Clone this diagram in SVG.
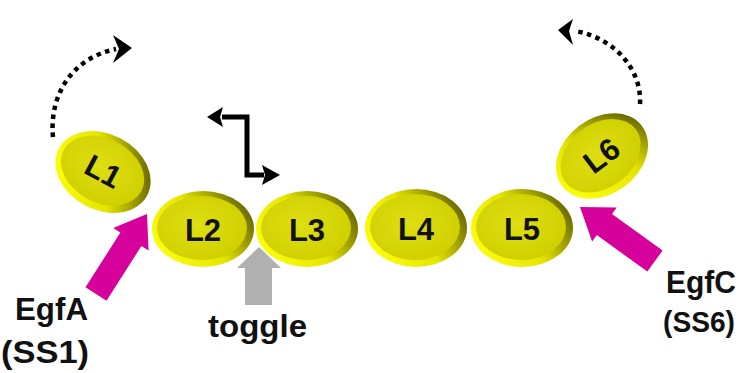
<svg xmlns="http://www.w3.org/2000/svg" width="743" height="373" viewBox="0 0 743 373">
<defs>
<linearGradient id="rim" x1="0" y1="0.75" x2="1" y2="0.25">
<stop offset="0" stop-color="#ffff10"/>
<stop offset="0.5" stop-color="#e4e400"/>
<stop offset="1" stop-color="#5e5e00"/>
</linearGradient>
<radialGradient id="face" cx="0.45" cy="0.45" r="0.6">
<stop offset="0" stop-color="#dede12"/>
<stop offset="1" stop-color="#cfcf00"/>
</radialGradient>
<style>
.rim{fill:url(#rim)}
.face{fill:url(#face)}
.lbl{font-family:"Liberation Sans",Arial,sans-serif;font-weight:bold;fill:#111;}
.node{font-size:31px;text-anchor:middle}
.dots{fill:none;stroke:#000;stroke-width:4.5;stroke-dasharray:4.5 4.5}
.blk{fill:#000}
.mag{fill:#d6009a}
.gry{fill:#b0b0b0}
</style>
</defs>
<g id="connectors">
<path class="dots" d="M53,137 C49,95 72,58 116,49"/>
<polygon class="blk" points="113,35 132,48 113,63 119,49"/>
<path class="dots" d="M640,104 C642,70 615,38 575,31"/>
<polygon class="blk" points="573,19 558,30 573,45 569,31"/>
<path d="M222,117 H247 V175 H264" fill="none" stroke="#000" stroke-width="5"/>
<polygon class="blk" points="207,117 223,107 220,117 223,127"/>
<polygon class="blk" points="280,175 262,165 265,175 262,185"/>
<polygon class="mag" points="85.5,287.3 120.4,232.6 113.2,228 147,214 148.6,250.6 141.4,246 106.5,300.7"/>
<polygon class="mag" points="662.6,250.4 612,213.9 616.7,207.4 580,207 592.1,241.5 596.8,235.1 647.4,271.6"/>
<polygon class="gry" points="245,305 245,268 237,268 259,247 281,268 272,268 272,305"/>
</g>
<g id="L1" transform="translate(103,172) rotate(28)">
<ellipse class="rim" rx="50" ry="38"/>
<ellipse class="face" cx="-1" cy="-1" rx="44" ry="32"/>
<text class="lbl node" y="10" font-size="29">L1</text>
</g>
<g id="L2" transform="translate(203,229)">
<ellipse class="rim" rx="51" ry="38"/>
<ellipse class="face" cx="-1" cy="-1" rx="45" ry="32"/>
<text class="lbl node" y="12">L2</text>
</g>
<g id="L3" transform="translate(307,229)">
<ellipse class="rim" rx="51" ry="38"/>
<ellipse class="face" cx="-1" cy="-1" rx="45" ry="32"/>
<text class="lbl node" y="12">L3</text>
</g>
<g id="L4" transform="translate(416,228)">
<ellipse class="rim" rx="51" ry="39"/>
<ellipse class="face" cx="-1" cy="-1" rx="45" ry="33"/>
<text class="lbl node" y="12">L4</text>
</g>
<g id="L5" transform="translate(522,228)">
<ellipse class="rim" rx="51" ry="39"/>
<ellipse class="face" cx="-1" cy="-1" rx="45" ry="33"/>
<text class="lbl node" y="12">L5</text>
</g>
<g id="L6" transform="translate(602,156) rotate(-37)">
<ellipse class="rim" rx="50" ry="38"/>
<ellipse class="face" cx="-1" cy="-1" rx="44" ry="32"/>
<text class="lbl node" y="10" font-size="29">L6</text>
</g>
<g id="labels">
<text class="lbl" x="15" y="320" font-size="32" textLength="73" lengthAdjust="spacingAndGlyphs">EgfA</text>
<text class="lbl" x="1" y="363" font-size="32" textLength="88" lengthAdjust="spacingAndGlyphs">(SS1)</text>
<text class="lbl" x="208" y="337" font-size="32" textLength="99" lengthAdjust="spacingAndGlyphs">toggle</text>
<text class="lbl" x="666" y="293" font-size="32" textLength="70" lengthAdjust="spacingAndGlyphs">EgfC</text>
<text class="lbl" x="663" y="332" font-size="30" textLength="72" lengthAdjust="spacingAndGlyphs">(SS6)</text>
</g>
</svg>
